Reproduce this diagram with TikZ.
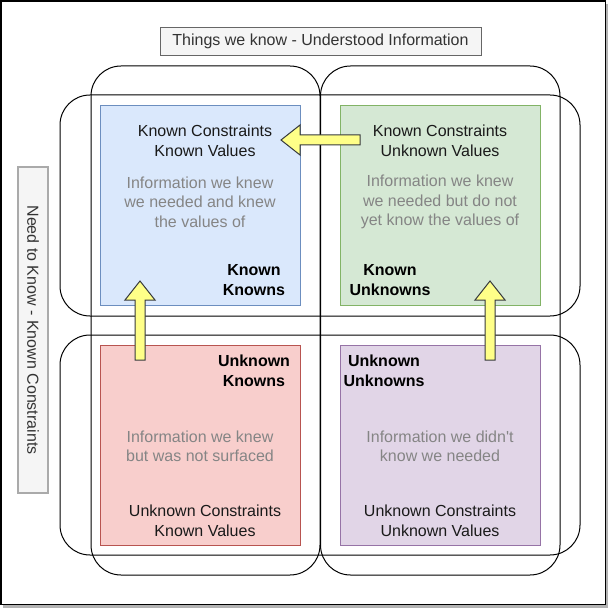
\documentclass[tikz,border=0pt]{standalone}
\usepackage{fontspec}
\setmainfont{Liberation Sans}
\definecolor{bluef}{HTML}{DAE8FC}\definecolor{bluel}{HTML}{6C8EBF}
\definecolor{greenf}{HTML}{D5E8D4}\definecolor{greenl}{HTML}{82B366}
\definecolor{redf}{HTML}{F8CECC}\definecolor{redl}{HTML}{B85450}
\definecolor{purf}{HTML}{E1D5E7}\definecolor{purl}{HTML}{9673A6}
\definecolor{yelf}{HTML}{FFFF88}\definecolor{yell}{HTML}{36393D}
\definecolor{lblf}{HTML}{F5F5F5}\definecolor{lbll}{HTML}{666666}\definecolor{lbll2}{HTML}{AAAAAA}
\definecolor{txtd}{HTML}{333333}\definecolor{txtg}{HTML}{858585}\definecolor{txtk}{HTML}{1A1A1A}
\definecolor{shad}{HTML}{B3B3B3}
\begin{document}
\begin{tikzpicture}[x=1pt,y=-1pt,
  grp/.style={draw=black,line width=1pt,rounded corners=30pt},
  quad/.style={draw,line width=0.9pt,minimum width=200pt,minimum height=200pt,inner sep=0pt,anchor=north west},
  blk/.style={draw=yell,fill=yelf,line width=1pt,line join=miter},
  tb/.style={font=\fontsize{16}{20}\selectfont,text=txtk,align=center,inner sep=0pt},
  tg/.style={font=\fontsize{16}{19.3}\selectfont,text=txtg,align=center,inner sep=0pt},
  tk/.style={font=\fontsize{16}{20}\selectfont\bfseries,text=black,align=center,inner sep=0pt}]
\useasboundingbox (0,0) rectangle (608,609);
% frame with shadow
\fill[shad] (3,4) rectangle (608,608);
\draw[fill=white,line width=1.2pt] (1,1) rectangle (605.5,604.5);
% title and side label
\node[draw=lbll,fill=lblf,line width=0.8pt,minimum width=321pt,minimum height=28pt,inner sep=0pt,
  font=\fontsize{16}{20}\selectfont,text=txtd] (title) at (320.5,41) {Things we know - Understood Information};
\node[draw=lbll2,fill=lblf,line width=1.6pt,minimum width=326pt,minimum height=30pt,inner sep=0pt,
  font=\fontsize{16}{20}\selectfont,text=txtd,rotate=-90] (side) at (33,330) {Need to Know - Known Constraints};
% group outlines
\draw[grp] (91,66) rectangle (320,575);
\draw[grp] (320.5,66) rectangle (560,575);
\draw[grp] (60,95) rectangle (580,316);
\draw[grp] (60,335) rectangle (580,555);
% quadrants
\node[quad,draw=bluel,fill=bluef] (kk) at (100,105) {};
\node[quad,draw=greenl,fill=greenf] (ku) at (340,105) {};
\node[quad,draw=redl,fill=redf] (uk) at (100,345) {};
\node[quad,draw=purl,fill=purf] (uu) at (340,345) {};
% texts: known knowns
\node[tb] (kk1) at (205,140.5) {Known Constraints\\Known Values};
\node[tg] (kk2) at (200,202) {Information we knew\\we needed and knew\\the values of};
\node[tk] (kk3) at (254,280.5) {Known\\Knowns};
% known unknowns
\node[tb] (ku1) at (440,140.5) {Known Constraints\\Unknown Values};
\node[tg] (ku2) at (440,202) {Information we knew\\we needed but do not\\yet know the values of};
\node[tk] (ku3) at (390,280.5) {Known\\Unknowns};
% unknown knowns
\node[tk] (uk3) at (254,370.5) {Unknown\\Knowns};
\node[tg] (uk2) at (200,446.5) {Information we knew\\but was not surfaced};
\node[tb] (uk1) at (205,520.5) {Unknown Constraints\\Known Values};
% unknown unknowns
\node[tk] (uu3) at (384,370.5) {Unknown\\Unknowns};
\node[tg] (uu2) at (440,446.5) {Information we didn\textquotesingle t\\know we needed};
\node[tb] (uu1) at (440,520.5) {Unknown Constraints\\Unknown Values};
% block arrows
\draw[blk] (360,135) -- (300,135) -- (300,125) -- (281,140) -- (300,155) -- (300,145) -- (360,145) -- cycle;
\draw[blk] (135,360) -- (135,300) -- (125,300) -- (140,281) -- (155,300) -- (145,300) -- (145,360) -- cycle;
\draw[blk] (485,360) -- (485,300) -- (475,300) -- (490,281) -- (505,300) -- (495,300) -- (495,360) -- cycle;
\end{tikzpicture}
\end{document}
